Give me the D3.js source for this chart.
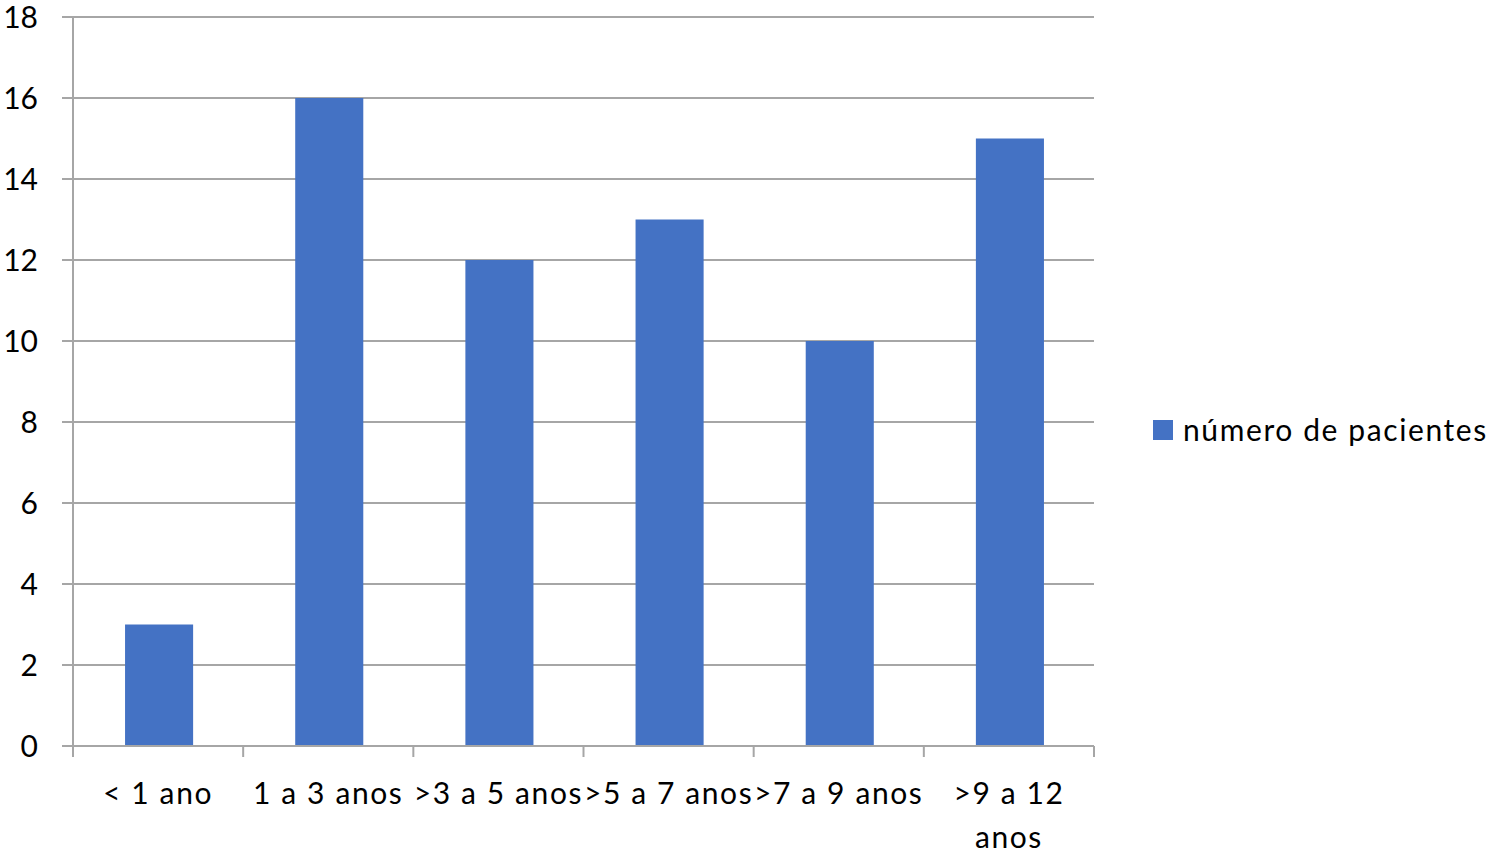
<!DOCTYPE html>
<html>
<head>
<meta charset="utf-8">
<script src="https://cdn.jsdelivr.net/npm/d3@7"></script>
<style>
  body { margin: 0; background: #fff; }
  text { font-family: Lato, "Open Sans", sans-serif; fill: #000; font-size: 30px; }
  .lab { letter-spacing: 1.6px; }
</style>
</head>
<body>
<div id="chart"></div>
<script>
const categories = ['< 1 ano', '1 a 3 anos', '>3 a 5 anos', '>5 a 7 anos', '>7 a 9 anos', '>9 a 12 anos'];
const pacientes = [3, 16, 12, 13, 10, 15];
const yTicks = [0, 2, 4, 6, 8, 10, 12, 14, 16, 18];
const seriesName = 'número de pacientes';

var width = 1497, height = 853;
var plotLeft = 73, plotRight = 1094, plotTop = 17, plotBottom = 746;

var svg = d3.select('#chart').append('svg')
    .attr('width', width)
    .attr('height', height);

var x = d3.scaleBand().domain(categories).range([plotLeft, plotRight]).paddingInner(0.6).paddingOuter(0.3);
var xb = d3.scaleBand().domain(categories).range([plotLeft, plotRight]);
var y = d3.scaleLinear().domain([0, 18]).range([plotBottom, plotTop]);

// gridlines
svg.selectAll('.grid')
    .data(yTicks)
  .enter().append('line')
    .attr('x1', plotLeft - 11)
    .attr('x2', plotRight)
    .attr('y1', d => y(d))
    .attr('y2', d => y(d))
    .attr('stroke', '#a6a6a6')
    .attr('stroke-width', 2);

// y axis line
svg.append('line')
    .attr('x1', plotLeft).attr('x2', plotLeft)
    .attr('y1', plotTop).attr('y2', plotBottom)
    .attr('stroke', '#a6a6a6').attr('stroke-width', 2);

svg.selectAll('.ylab')
    .data(yTicks)
  .enter().append('text')
    .attr('x', 38)
    .attr('y', d => y(d))
    .attr('dy', '0.36em')
    .attr('text-anchor', 'end')
    .text(d => d);

// bars
svg.selectAll('.bar')
    .data(pacientes)
  .enter().append('rect')
    .attr('x', (d, i) => x(categories[i]) + 1)
    .attr('width', x.bandwidth())
    .attr('y', d => y(d))
    .attr('height', d => y(0) - y(d))
    .attr('fill', '#4472c4');

// x axis
svg.append('line')
    .attr('x1', plotLeft).attr('x2', plotRight)
    .attr('y1', plotBottom).attr('y2', plotBottom)
    .attr('stroke', '#a6a6a6').attr('stroke-width', 2);

var tickPos = categories.map(c => xb(c)).concat([plotRight]);
svg.selectAll('.xtick')
    .data(tickPos)
  .enter().append('line')
    .attr('x1', d => d).attr('x2', d => d)
    .attr('y1', plotBottom).attr('y2', plotBottom + 11)
    .attr('stroke', '#a6a6a6').attr('stroke-width', 2);

var xlab = svg.selectAll('.xlab')
    .data(categories)
  .enter().append('text')
    .attr('class', 'lab')
    .attr('x', d => xb(d) + xb.bandwidth() / 2)
    .attr('y', 804)
    .attr('text-anchor', 'middle');

xlab.each(function(d) {
  var t = d3.select(this);
  var cx = xb(d) + xb.bandwidth() / 2;
  if (d === '>9 a 12 anos') {
    t.append('tspan').attr('x', cx).text('>9 a 12');
    t.append('tspan').attr('x', cx).attr('dy', 44).text('anos');
  } else {
    t.text(d);
  }
});

// legend
svg.append('rect')
    .attr('x', 1153).attr('y', 420)
    .attr('width', 20).attr('height', 20)
    .attr('fill', '#4472c4');
svg.append('text')
    .attr('class', 'lab')
    .attr('x', 1183).attr('y', 430)
    .attr('dy', '0.36em')
    .text(seriesName);
</script>
</body>
</html>
